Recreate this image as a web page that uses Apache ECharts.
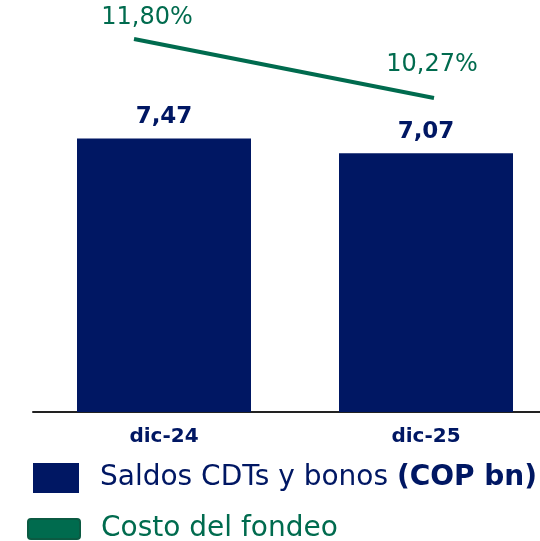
<!DOCTYPE html>
<html>
<head>
<meta charset="utf-8">
<script src="https://cdn.jsdelivr.net/npm/echarts@6/dist/echarts.min.js"></script>
<style>
  html, body { margin: 0; padding: 0; background: #fff; }
  #chart { width: 540px; height: 541px; }
</style>
</head>
<body>
<div id="chart"></div>
<script>
const categories = ['dic-24', 'dic-25']
const saldos = [7.47, 7.07]
const costo = [11.80, 10.27]

const navy = '#001763'
const green = '#006b4e'
const font = 'DejaVu Sans'

;(function () {
  let myChart = echarts.init(document.getElementById('chart'))
  let option = {
    animation: false,
    textStyle: { fontFamily: font },
    legend: [
      {
        data: ['Saldos CDTs y bonos (COP bn)'],
        left: 33,
        top: 463,
        padding: 0,
        itemWidth: 46,
        itemHeight: 30,
        icon: 'rect',
        formatter: 'Saldos CDTs y bonos {b|(COP bn)}',
        textStyle: {
          color: navy, fontSize: 28, padding: [0, 0, 0, 16], fontFamily: font,
          rich: { b: { color: navy, fontSize: 28, fontWeight: 'bold', fontFamily: font } }
        }
      },
      {
        data: ['Costo del fondeo'],
        left: 27,
        top: 515,
        padding: 0,
        itemWidth: 52,
        itemHeight: 20,
        // rectangulo con esquinas poco redondeadas
        icon: 'path://M3,0 L49,0 Q52,0 52,3 L52,17 Q52,20 49,20 L3,20 Q0,20 0,17 L0,3 Q0,0 3,0 Z',
        itemStyle: { color: green, borderColor: '#0b5a42', borderWidth: 2 },
        textStyle: { color: green, fontSize: 28, padding: [0, 0, 0, 16], fontFamily: font }
      }
    ],
    grid: [
      { left: 33, width: 524, top: 46, height: 366, containLabel: false, outerBoundsMode: 'none' },
      { left: -16, width: 600, top: 12, height: 135, containLabel: false, outerBoundsMode: 'none' }
    ],
    xAxis: [
      {
        type: 'category',
        gridIndex: 0,
        data: categories,
        axisTick: { show: false },
        axisLine: { lineStyle: { color: '#222', width: 2 } },
        axisLabel: { color: navy, fontSize: 20, fontWeight: 'bold', margin: 15, fontFamily: font }
      },
      {
        type: 'category',
        gridIndex: 1,
        data: categories,
        show: false
      }
    ],
    yAxis: [
      { type: 'value', gridIndex: 0, min: 0, max: 10, show: false },
      { type: 'value', gridIndex: 1, min: 9, max: 12.5, show: false }
    ],
    series: [
      {
        name: 'Saldos CDTs y bonos (COP bn)',
        type: 'bar',
        xAxisIndex: 0,
        yAxisIndex: 0,
        barWidth: 174,
        itemStyle: { color: navy },
        label: {
          show: true,
          position: 'top',
          distance: 10,
          color: navy,
          fontSize: 23,
          fontWeight: 'bold',
          fontFamily: font,
          formatter: p => p.value.toFixed(2).replace('.', ',')
        },
        data: saldos
      },
      {
        name: 'Costo del fondeo',
        type: 'line',
        xAxisIndex: 1,
        yAxisIndex: 1,
        symbol: 'circle',
        showSymbol: true,
        symbolSize: 0,
        lineStyle: { color: green, width: 4 },
        itemStyle: { color: green },
        label: {
          show: true,
          color: green,
          fontSize: 24,
          fontFamily: font,
          formatter: p => p.value.toFixed(2).replace('.', ',') + '%'
        },
        data: costo.map((v, i) => ({
          value: v,
          label: i === 0
            ? { position: 'top', distance: 9, offset: [13, 0] }
            : { position: 'top', distance: 21, offset: [-2, 0] }
        }))
      }
    ]
  }
  myChart.setOption(option)
})()
</script>
</body>
</html>
